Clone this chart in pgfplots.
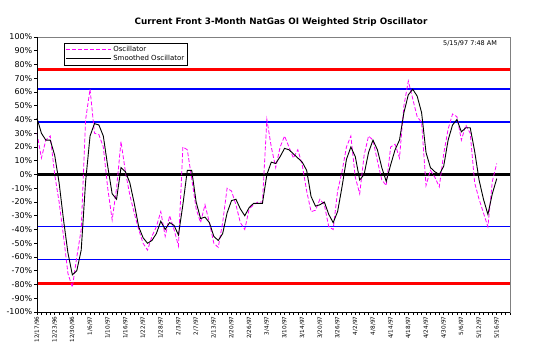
\documentclass[border=0pt]{standalone}
\usepackage{pgfplots}
\usepackage{pgfplotstable}
\pgfplotsset{compat=1.18}
\usepackage{fontspec}
\setmainfont{DejaVu Sans}
\definecolor{osc}{RGB}{255,0,255}
\definecolor{refred}{RGB}{255,0,0}
\definecolor{refblue}{RGB}{0,0,255}

\pgfplotstableread{
idx sm osc
0 41 30
1 30 12
2 25 25
3 25 28
4 14 0
5 -6 -20
6 -33 -45
7 -57 -72
8 -73 -82
9 -70 -60
10 -55 -40
11 -5 40
12 28 62
13 37 30
14 36 29
15 28 20
16 6 -10
17 -14 -33
18 -18 -10
19 5 24
20 2 2
21 -6 -15
22 -21 -28
23 -38 -40
24 -46 -50
25 -50 -55
26 -48 -45
27 -43 -38
28 -34 -27
29 -40 -45
30 -35 -30
31 -37 -40
32 -44 -52
33 -22 20
34 3 18
35 3 -3
36 -20 -25
37 -32 -35
38 -31 -22
39 -35 -35
40 -45 -50
41 -48 -53
42 -43 -35
43 -28 -10
44 -19 -12
45 -18 -22
46 -25 -35
47 -30 -40
48 -24 -25
49 -21 -22
50 -21 -20
51 -21 -20
52 0 40
53 9 20
54 8 5
55 13 20
56 19 28
57 18 20
58 15 12
59 12 18
60 9 7
61 3 -12
62 -16 -27
63 -23 -26
64 -22 -18
65 -20 -22
66 -29 -38
67 -35 -40
68 -27 -12
69 -9 2
70 11 20
71 20 28
72 13 -2
73 -4 -14
74 0 14
75 16 28
76 25 25
77 18 10
78 5 -4
79 -5 -8
80 7 20
81 18 22
82 25 12
83 45 50
84 58 68
85 62 55
86 57 42
87 45 38
88 16 -8
89 5 3
90 2 -2
91 0 -9
92 6 15
93 25 33
94 36 44
95 40 42
96 31 25
97 34 36
98 34 30
99 17 -6
100 -4 -18
101 -18 -28
102 -29 -38
103 -14 -5
104 -3 8
}\datatable

\begin{document}
\begin{tikzpicture}[x=1pt,y=1pt]
\useasboundingbox (0,0) rectangle (538,355);
\node[font=\bfseries\fontsize{8.8}{10}\selectfont] at (281,333) {Current Front 3-Month NatGas OI Weighted Strip Oscillator};
\begin{axis}[
  at={(37pt,43pt)}, anchor=south west,
  scale only axis, width=473pt, height=275pt,
  xmin=0, xmax=107, ymin=-100, ymax=100,
  axis line style={draw=gray},
  xtick pos=left, ytick pos=left,
  tick align=outside,
  major tick length=3pt, minor tick length=3pt,
  every tick/.style={black, line width=0.5pt},
  xtick={0,4,...,104},
  minor xtick={0,1,...,107},
  xticklabels={12/17/96,12/23/96,12/30/96,1/6/97,1/10/97,1/16/97,1/22/97,1/28/97,2/3/97,2/7/97,2/13/97,2/20/97,2/26/97,3/4/97,3/10/97,3/14/97,3/20/97,3/26/97,4/2/97,4/8/97,4/14/97,4/18/97,4/24/97,4/30/97,5/6/97,5/12/97,5/16/97},
  x tick label style={rotate=90, anchor=east, font=\fontsize{5.7}{6}\selectfont, inner sep=1.5pt},
  ytick={-100,-90,...,100},
  yticklabels={-100\%,-90\%,-80\%,-70\%,-60\%,-50\%,-40\%,-30\%,-20\%,-10\%,0\%,10\%,20\%,30\%,40\%,50\%,60\%,70\%,80\%,90\%,100\%},
  y tick label style={font=\fontsize{8}{9}\selectfont, inner sep=1.5pt},
  legend style={at={(0.057,0.978)}, anchor=north west, draw=black, line width=0.8pt,
    font=\fontsize{7}{8}\selectfont, inner sep=1pt, row sep=-2pt},
  legend cell align=left,
  legend image code/.code={\draw[#1] (0pt,0pt) -- (45pt,0pt);},
  clip=false,
]
\addplot[refred, line width=3pt, forget plot] coordinates {(0,76) (107,76)};
\addplot[refred, line width=3pt, forget plot] coordinates {(0,-79) (107,-79)};
\addplot[refblue, line width=1.5pt, forget plot] coordinates {(0,62) (107,62)};
\addplot[refblue, line width=2.5pt, forget plot] coordinates {(0,38.3) (107,38.3)};
\addplot[refblue, line width=1.7pt, forget plot] coordinates {(0,-37.8) (107,-37.8)};
\addplot[refblue, line width=1.5pt, forget plot] coordinates {(0,-61.8) (107,-61.8)};
\addplot[black, line width=2.5pt, forget plot] coordinates {(0,0) (107,0)};
\addplot[osc, line width=0.8pt, dash pattern=on 4pt off 2pt] table[x=idx, y=osc] {\datatable};
\addlegendentry{Oscillator}
\addplot[black, line width=0.9pt] table[x=idx, y=sm] {\datatable};
\addlegendentry{Smoothed Oscillator}
\draw[black, line width=0.6pt] (rel axis cs:0,1) -- (rel axis cs:0,0) -- (rel axis cs:1,0);
\node[anchor=east, font=\fontsize{6.5}{7}\selectfont] at (rel axis cs:0.98,0.975) {5/15/97 7:48 AM};
\end{axis}
\end{tikzpicture}
\end{document}
